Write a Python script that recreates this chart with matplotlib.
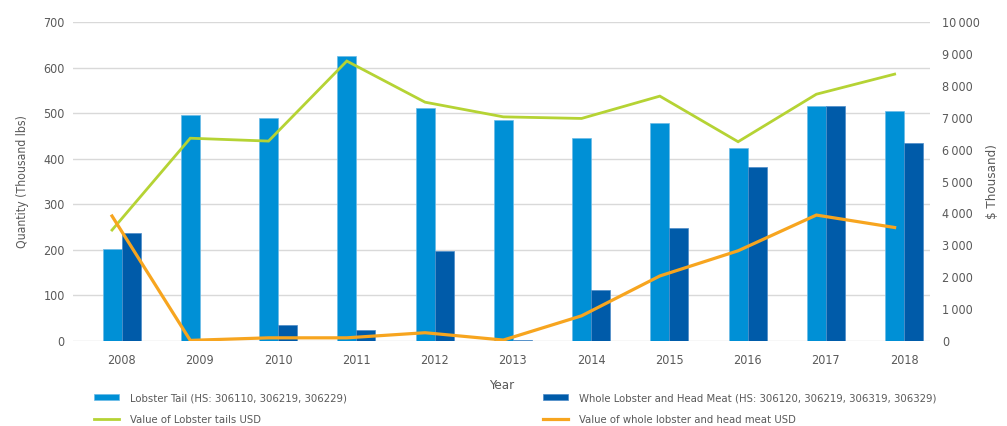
import numpy as np
import matplotlib.pyplot as plt
from matplotlib.ticker import FuncFormatter

# data
years = ["2008", "2009", "2010", "2011", "2012", "2013",
         "2014", "2015", "2016", "2017", "2018"]
tail_qty = [201, 496, 490, 625, 511, 485, 445, 478, 424, 515, 505]
whole_qty = [237, 0, 36, 24, 197, 2, 113, 248, 383, 515, 434]
tail_usd = [3480, 6360, 6270, 8780, 7490, 7030, 6980, 7680, 6250, 7740, 8370]
whole_usd = [3920, 20, 100, 100, 260, 30, 790, 2040, 2830, 3950, 3560]

c_tail = "#0090d6"
c_whole = "#005ba9"
c_green = "#b5d334"
c_orange = "#f7a51f"
grey = "#595959"

plt.rcParams["font.family"] = ["DejaVu Sans"]
plt.rcParams["font.stretch"] = "condensed"

fig = plt.figure(figsize=(10.07, 4.26), dpi=100)
ax = fig.add_axes([0.0725, 0.1995, 0.851, 0.7485])
ax2 = ax.twinx()

x = np.arange(len(years))
w = 0.243
b1 = ax.bar(x - w / 2, tail_qty, w, color=c_tail, edgecolor="#6cbbe6", linewidth=0.5, zorder=3)
b2 = ax.bar(x + w / 2, whole_qty, w, color=c_whole, edgecolor="#4d8cc8", linewidth=0.5, zorder=3)

l1, = ax2.plot(x - w / 2, tail_usd, color=c_green, lw=2.0, solid_joinstyle="miter")
l2, = ax2.plot(x - w / 2, whole_usd, color=c_orange, lw=2.3, solid_joinstyle="miter")

ax.set_xlim(-0.62, 10.33)
ax.set_ylim(0, 700)
ax2.set_ylim(0, 10000)
ax.set_yticks(np.arange(0, 701, 100))
ax2.set_yticks(np.arange(0, 10001, 1000))
ax2.yaxis.set_major_formatter(FuncFormatter(lambda v, p: f"{int(v):,}".replace(",", "\u2009")))
ax.set_xticks(x)
ax.set_xticklabels(years)

ax.grid(axis="y", color="#d9d9d9", lw=1, zorder=0)
ax.set_axisbelow(True)
for a in (ax, ax2):
    for s in a.spines.values():
        s.set_visible(False)
    a.tick_params(length=0, labelsize=9, colors=grey)
ax.tick_params(axis="y", pad=6)
ax2.tick_params(axis="y", pad=9)
ax.tick_params(axis="x", pad=9)

ax.set_ylabel("Quantity (Thousand lbs)", color=grey, fontsize=8.8, labelpad=10)
ax2.set_ylabel("$ Thousand)", color=grey, fontsize=9.5, labelpad=4)
ax.set_xlabel("Year", color=grey, fontsize=9.5, labelpad=9)

# two legend columns placed separately
leg_kw = dict(loc="upper left", frameon=False, fontsize=8.1, handlelength=2.2,
              handleheight=0.45, handletextpad=1.0, labelspacing=1.05,
              labelcolor=grey, borderaxespad=0)
fig.legend([b1, l1], ["Lobster Tail (HS: 306110, 306219, 306229)", "Value of Lobster tails USD"],
           bbox_to_anchor=(0.089, 0.088), **leg_kw)
fig.legend([b2, l2], ["Whole Lobster and Head Meat (HS: 306120, 306219, 306319, 306329)",
                      "Value of whole lobster and head meat USD"],
           bbox_to_anchor=(0.535, 0.088), **leg_kw)

plt.savefig("out.png", dpi=100)
